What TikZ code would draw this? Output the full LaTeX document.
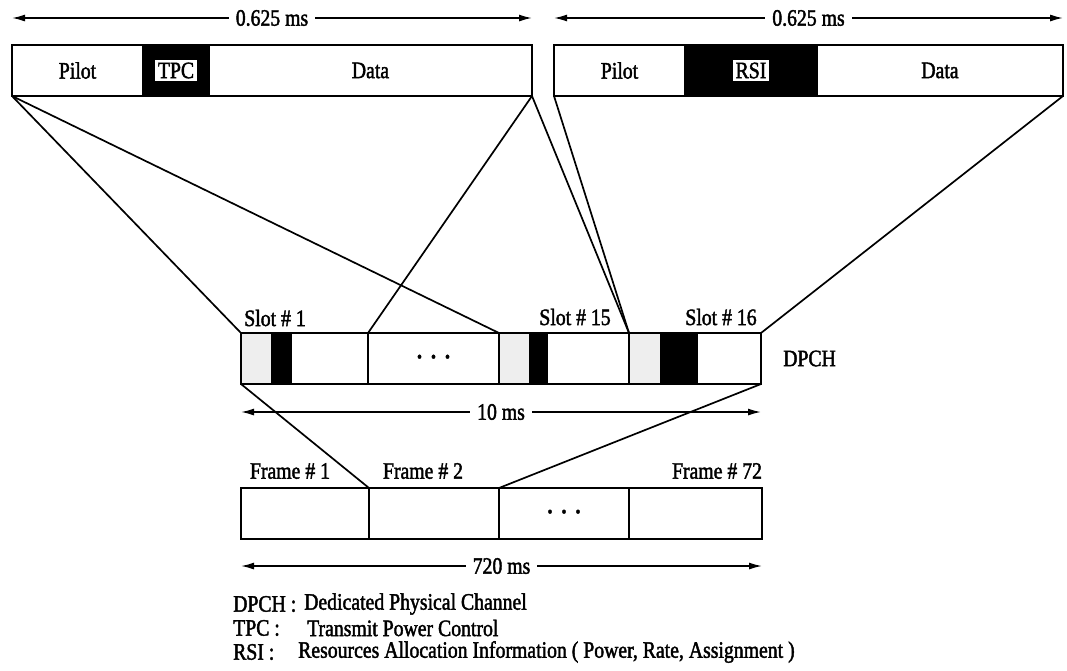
\documentclass[tikz,border=0pt]{standalone}
\usepackage{fontspec}
\setmainfont[FakeStretch=0.84,FakeBold=1.8]{Liberation Serif}
\usetikzlibrary{arrows.meta,positioning}
\definecolor{stipple}{RGB}{238,238,238}
\tikzset{
  seg/.style={rectangle, draw=black, line width=1.7pt, inner sep=0pt,
    outer sep=0pt, minimum height=51pt, font=\fontsize{23.5}{26}\selectfont},
  plainseg/.style={seg, fill=white},
  ctrlseg/.style={seg, fill=black},
  grayseg/.style={seg, fill=stipple},
  lbl/.style={font=\fontsize{23.5}{26}\selectfont, inner sep=1pt},
  tag/.style={lbl, fill=white, inner xsep=3pt, inner ysep=3pt},
  spanarrow/.style={{Latex[length=13pt,width=7pt]}-{Latex[length=13pt,width=7pt]},
    line width=1.5pt},
  spanlbl/.style={lbl, fill=white, inner xsep=7pt},
  fanline/.style={line width=1.7pt},
  dotrow/.style={font=\fontsize{17}{17}\selectfont, inner sep=0pt}
}

\begin{document}
\begin{tikzpicture}[x=1pt, y=-1pt]
  \useasboundingbox (0,0) rectangle (1067,670);

  % --- slot contents ---
  \node[plainseg, anchor=north west, minimum width=131pt] (pilotA) at (12,45) {Pilot};
  \node[ctrlseg, right=0pt of pilotA, minimum width=66pt] (tpcA) {};
  \node[plainseg, right=0pt of tpcA, minimum width=323pt] (dataA) {Data};
  \node[tag] (tpclbl) at (tpcA) {TPC};

  \node[plainseg, anchor=north west, minimum width=131pt] (pilotB) at (554,45) {Pilot};
  \node[ctrlseg, right=0pt of pilotB, minimum width=132pt] (rsiB) {};
  \node[plainseg, right=0pt of rsiB, minimum width=246pt] (dataB) {Data};
  \node[tag] (rsilbl) at (rsiB) {RSI};

  \draw[spanarrow] ([yshift=27pt]pilotA.north west) -- ([yshift=27pt]dataA.north east)
        node[midway, spanlbl] {0.625 ms};
  \draw[spanarrow] ([yshift=27pt]pilotB.north west) -- ([yshift=27pt]dataB.north east)
        node[midway, spanlbl] {0.625 ms};

  % --- DPCH slots ---
  \node[grayseg, anchor=north west, minimum width=31pt] (s1g) at (241,333) {};
  \node[ctrlseg, right=0pt of s1g, minimum width=19pt] (s1k) {};
  \node[plainseg, right=0pt of s1k, minimum width=77pt] (s1w) {};
  \node[plainseg, right=0pt of s1w, minimum width=131pt] (sgap) {};
  \node[grayseg, right=0pt of sgap, minimum width=31pt] (s15g) {};
  \node[ctrlseg, right=0pt of s15g, minimum width=17pt] (s15k) {};
  \node[plainseg, right=0pt of s15k, minimum width=82pt] (s15w) {};
  \node[grayseg, right=0pt of s15w, minimum width=32pt] (s16g) {};
  \node[ctrlseg, right=0pt of s16g, minimum width=36pt] (s16k) {};
  \node[plainseg, right=0pt of s16k, minimum width=64pt] (s16w) {};
  \node[dotrow] (sdots) at (sgap) {\textbullet\hspace{9pt}\textbullet\hspace{9pt}\textbullet};

  \node[lbl] (slot1) at (275,318) {Slot \# 1};
  \node[lbl] (slot15) at (575,317) {Slot \# 15};
  \node[lbl] (slot16) at (721,317) {Slot \# 16};
  \node[lbl, right=21pt of s16w] (dpch) {DPCH};

  \draw[spanarrow] ([yshift=-28pt]s1g.south west) -- ([yshift=-28pt]s16w.south east)
        node[midway, spanlbl] {10 ms};

  % --- frames ---
  \node[plainseg, anchor=north west, minimum width=128pt] (f1) at (241,488) {};
  \node[plainseg, right=0pt of f1, minimum width=130pt] (f2) {};
  \node[plainseg, right=0pt of f2, minimum width=130pt] (fgap) {};
  \node[plainseg, right=0pt of fgap, minimum width=133pt] (f72) {};
  \node[dotrow] (fdots) at (fgap) {\textbullet\hspace{9pt}\textbullet\hspace{9pt}\textbullet};

  \node[lbl] (frame1) at (290,471) {Frame \# 1};
  \node[lbl] (frame2) at (423,471) {Frame \# 2};
  \node[lbl] (frame72) at (717,471) {Frame \# 72};

  \draw[spanarrow] ([yshift=-27pt]f1.south west) -- ([yshift=-27pt]f72.south east)
        node[midway, spanlbl] {720 ms};

  % ---------------- zoom lines ----------------
  \draw[fanline] (pilotA.south west) -- (s1g.north west);
  \draw[fanline] (pilotA.south west) -- (s15g.north west);
  \draw[fanline] (dataA.south east) -- (s1w.north east);
  \draw[fanline] (dataA.south east) -- (s15w.north east);
  \draw[fanline] (pilotB.south west) -- (s16g.north west);
  \draw[fanline] (dataB.south east) -- (s16w.north east);

  \draw[fanline] (s1g.south west) -- (f2.north west);
  \draw[fanline] (s16w.south east) -- (f2.north east);

  % --- legend ---
  \node[lbl, anchor=west] (keydpch) at (232,604) {DPCH :};
  \node[lbl, anchor=west] (txtdpch) at (303,604) {Dedicated Physical Channel};
  \node[lbl, anchor=west] (keytpc) at (232,628) {TPC :};
  \node[lbl, anchor=west] (txttpc) at (306,628) {Transmit Power Control};
  \node[lbl, anchor=west] (keyrsi) at (232,652) {RSI :};
  \node[lbl, anchor=west] (txtrsi) at (297,652)
       {Resources Allocation Information ( Power, Rate, Assignment )};

\end{tikzpicture}
\end{document}
